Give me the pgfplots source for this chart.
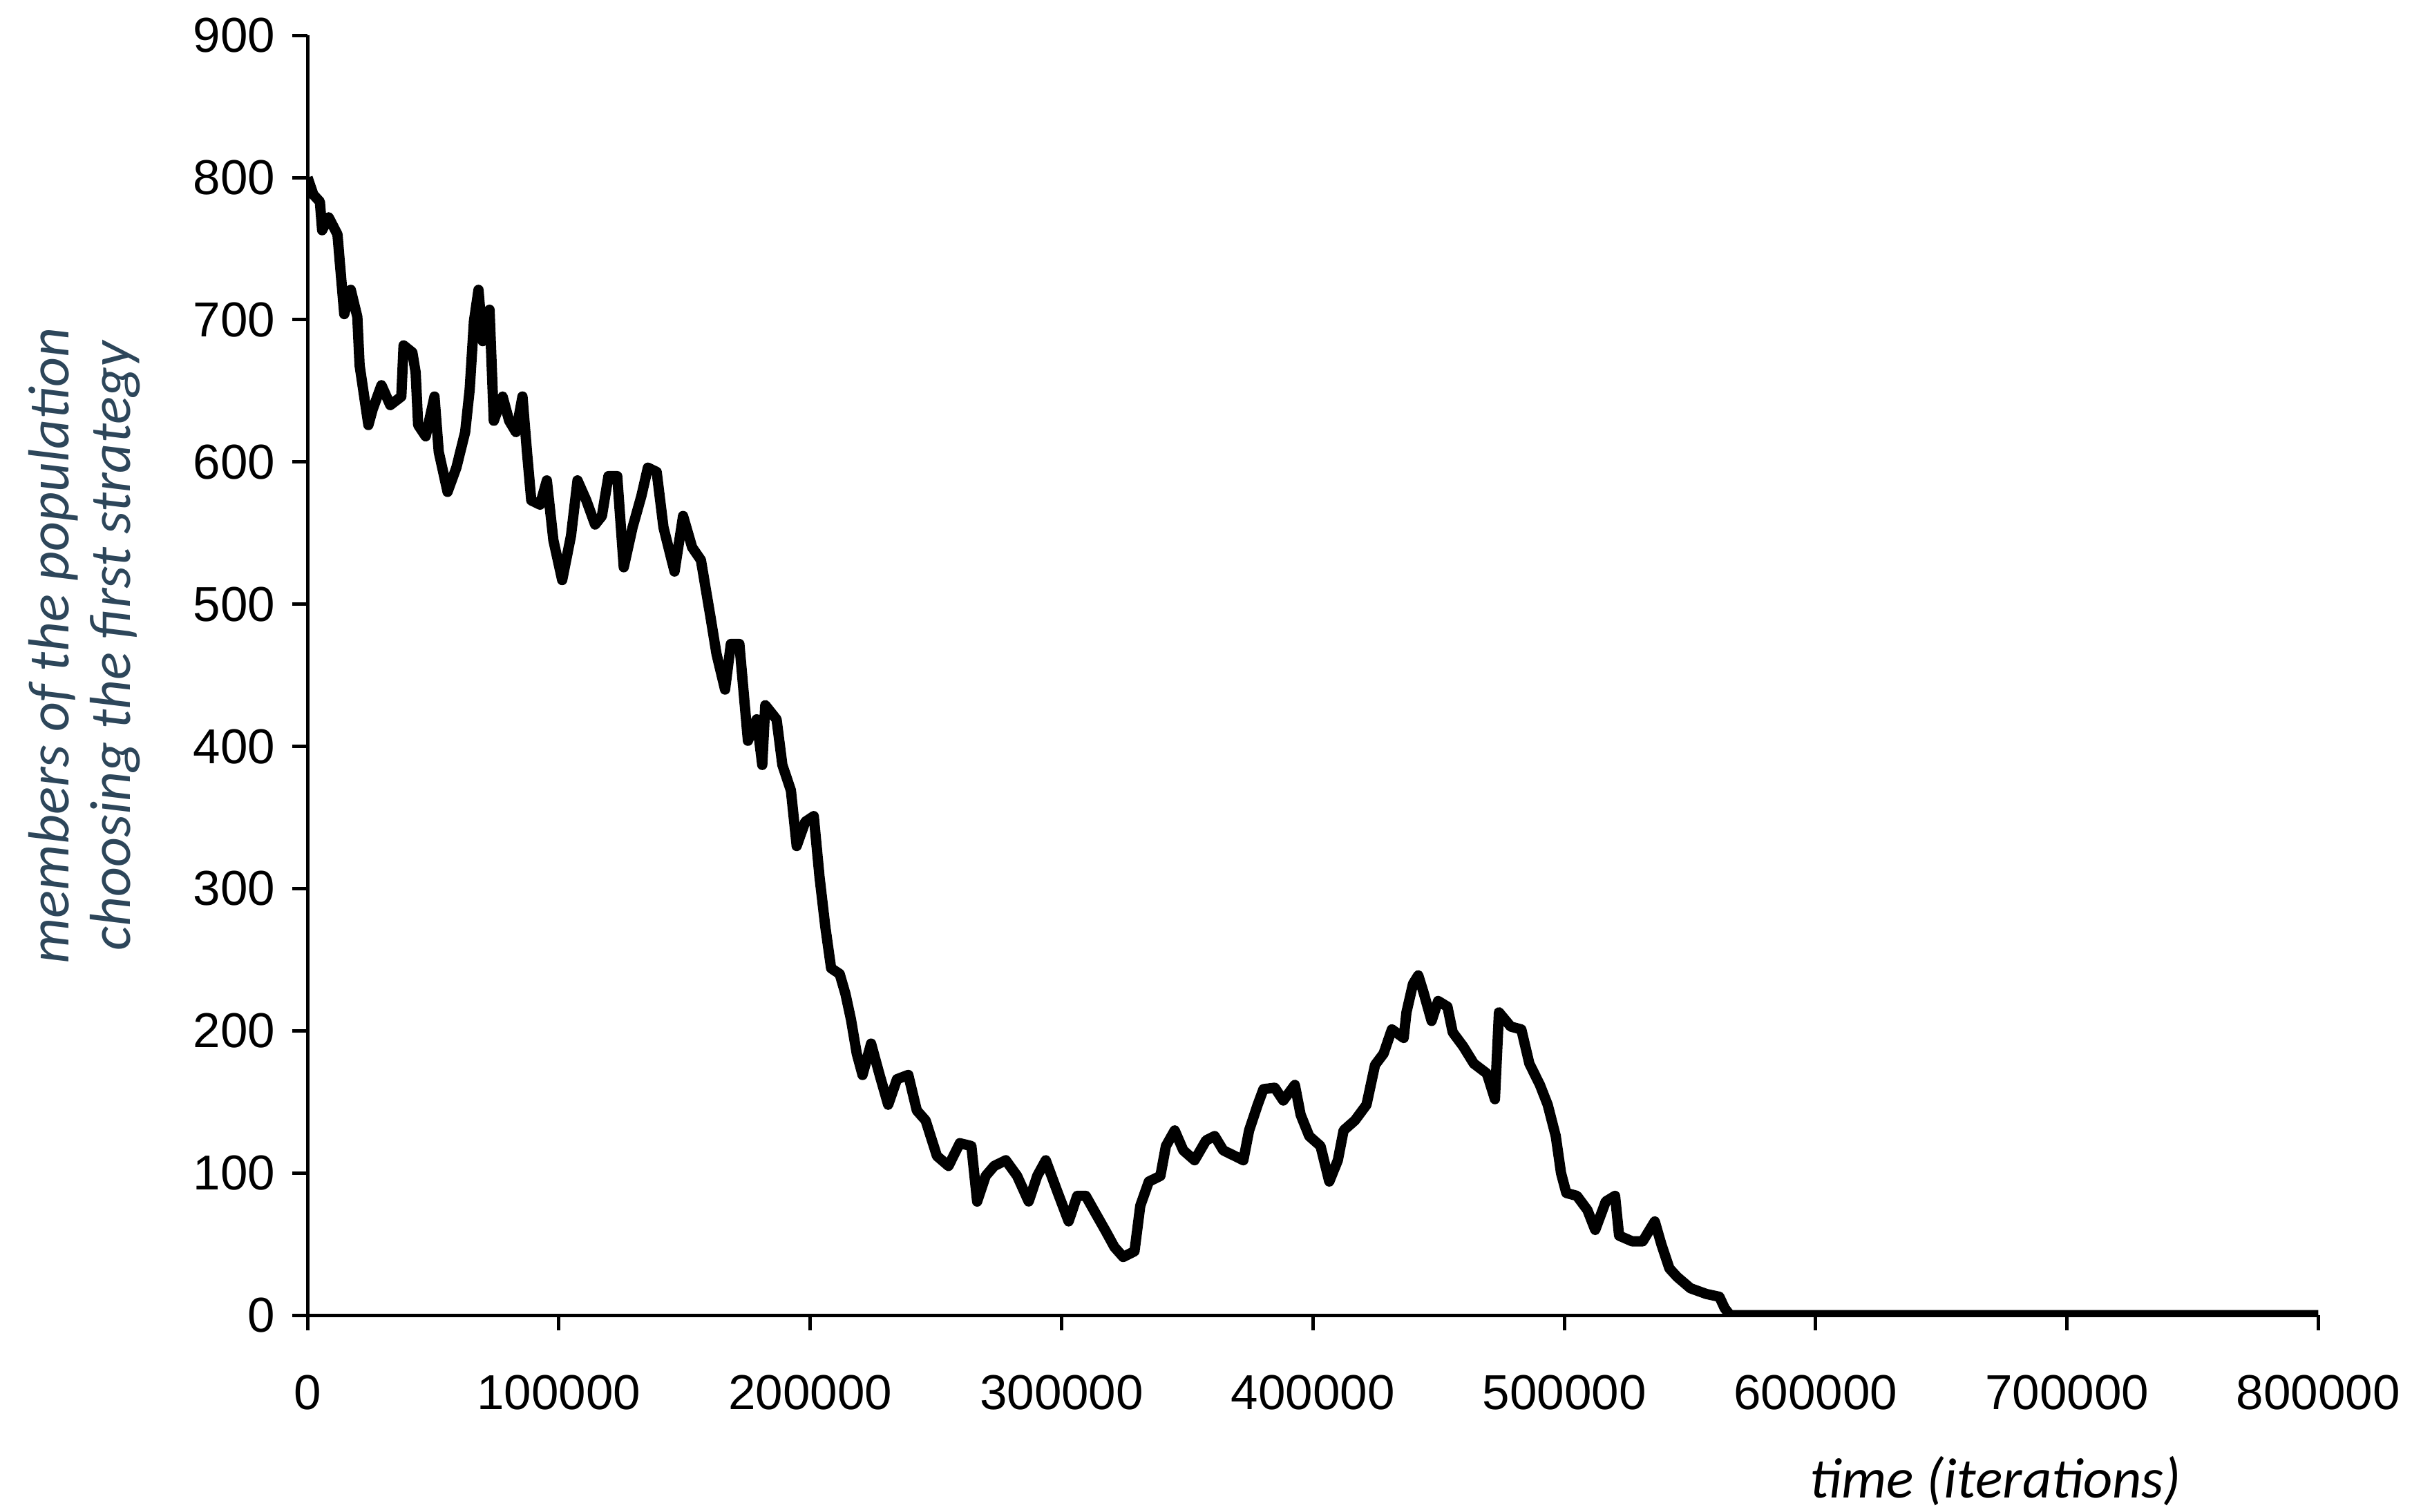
\documentclass[border=0pt]{standalone}
\usepackage{fontspec}
\setmainfont{Liberation Sans}
\newfontfamily\labelfont{Carlito}
\usepackage{pgfplots}
\pgfplotsset{compat=1.18}
\definecolor{ylab}{RGB}{45,70,90}

\usepackage{pgfplotstable}
\pgfplotstableread{
t n
0 800
2300 788
4900 783
5800 763
8400 772
11900 760
12800 741
14600 704
17200 721
19800 702
20700 668
24200 626
25900 637
29400 654
32900 640
37300 646
38200 682
41700 677
43000 663
44000 626
47000 618
50500 646
52200 607
55700 579
59200 596
62700 621
64500 651
66200 699
68000 721
69700 685
72400 707
74100 629
77600 646
80200 629
82900 621
85500 646
87300 607
89000 573
92500 570
95200 587
97800 545
101300 517
104800 548
107400 587
110900 573
114400 556
117100 562
119700 590
123200 590
125800 526
129300 554
132800 576
135400 596
138900 593
141600 554
146000 523
149400 562
153000 540
156500 531
160400 490
162700 465
166100 440
168400 472
171800 472
175200 404
178700 419
180900 387
182100 429
186600 419
188900 387
192300 369
194600 330
198000 347
201400 351
203700 308
206000 273
208300 244
211700 240
214000 226
216200 208
218500 184
220800 169
224200 191
227600 169
231000 148
234500 166
239000 169
242400 144
245900 137
250400 112
255000 105
259500 121
264100 119
266400 80
269800 98
273200 105
277800 109
282300 98
286900 80
290300 98
293700 109
298300 87
302800 66
306200 84
309600 84
313100 73
317600 59
321000 48
324500 41
329000 45
331300 77
334700 94
339300 98
341500 119
345000 130
348400 116
352900 109
357500 123
360900 126
364300 116
368900 112
372300 109
374600 130
378000 148
380300 159
384800 160
388200 151
392800 162
395100 141
398500 126
403000 119
406500 94
409900 109
412200 130
416700 137
421300 148
424700 176
428100 184
431400 201
436100 195
437200 213
439800 233
441900 239
444000 227
447200 207
449800 221
453500 217
455600 199
459800 189
464000 177
469200 170
472400 152
474000 213
478700 203
482900 201
486100 177
490300 162
493400 148
496600 126
498700 100
500800 86
505000 84
509200 74
512300 60
516500 80
520200 84
521800 56
527000 52
531200 52
536000 66
538600 50
541800 33
544900 27
550200 19
556500 15
561700 13
563800 5
566000 0
800000 0
}\population

\begin{document}
\begin{tikzpicture}
\path[use as bounding box] (-62.7pt,-40pt) rectangle (429pt,268.2pt);
\begin{axis}[
    scale only axis,
    width=409.9pt,
    height=261pt,
    xmin=0, xmax=800000,
    ymin=0, ymax=900,
    axis lines*=left,
    axis line style={line width=0.7pt},
    tick align=outside,
    major tick length=3.1pt,
    tick style={line width=0.7pt, black},
    xtick={0,100000,...,800000},
    ytick={0,100,...,900},
    scaled x ticks=false,
    xticklabel style={/pgf/number format/fixed, /pgf/number format/1000 sep={}, yshift=-5.6pt},
    /pgf/number format/assume math mode=true,
    tick label style={font=\fontsize{10}{12}\selectfont},
    xlabel={time (iterations)},
    xlabel style={at={(axis description cs:0.8395,0)}, anchor=center, yshift=-33.8pt,
        font=\labelfont\itshape\fontsize{11.6}{13}\selectfont},
    ylabel={members of the population\\choosing the first strategy},
    ylabel style={at={(axis description cs:0,0.523)}, anchor=center, yshift=45.5pt,
        align=center, text=ylab,
        font=\labelfont\itshape\fontsize{11.8}{12.5}\selectfont},
]
\addplot[black, line width=2.1pt, line join=round] table[x=t, y=n] {\population};
\end{axis}
\end{tikzpicture}
\end{document}
